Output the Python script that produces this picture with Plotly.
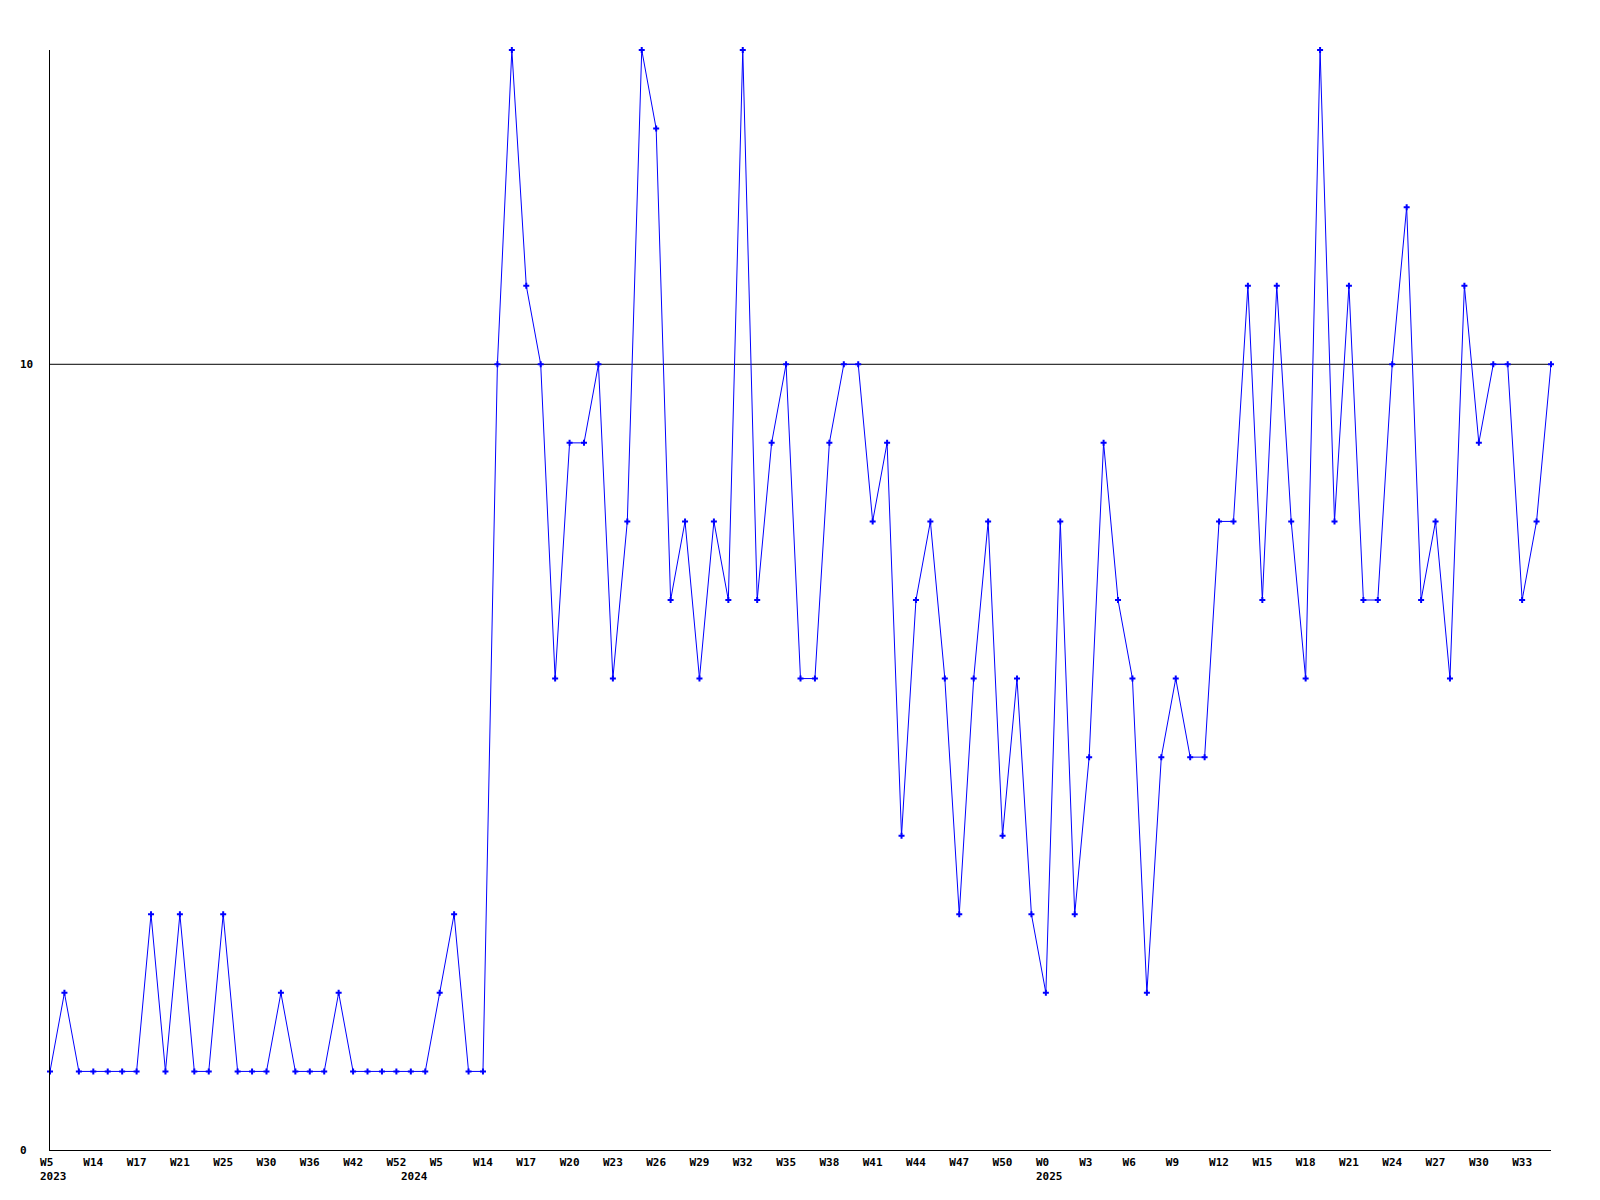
import plotly.graph_objects as go

# ---- data ----
years = [2023] * 25 + [2024] * 44 + [2025] * 36
weeks = [5, 8, 11, 14, 15, 16, 17, 18, 20, 21, 22, 24, 25, 27, 28, 30, 32, 34,
         36, 38, 40, 42, 45, 49, 52, 1, 3,
         5, 8, 11] + list(range(14, 53)) + list(range(0, 36))

values = [1, 2, 1, 1, 1, 1, 1, 3, 1, 3,
          1, 1, 3, 1, 1, 1, 2, 1, 1, 1,
          2, 1, 1, 1, 1, 1, 1, 2, 3, 1,
          1, 10, 14, 11, 10, 6, 9, 9, 10, 6,
          8, 14, 13, 7, 8, 6, 8, 7, 14, 7,
          9, 10, 6, 6, 9, 10, 10, 8, 9, 4,
          7, 8, 6, 3, 6, 8, 4, 6, 3, 2,
          8, 3, 5, 9, 7, 6, 2, 5, 6, 5,
          5, 8, 8, 11, 7, 11, 8, 6, 14, 8,
          11, 7, 7, 10, 12, 7, 8, 6, 11, 9,
          10, 10, 7, 8, 10]

categories = [f"{y}-W{w:02d}" for y, w in zip(years, weeks)]
tick_step = 3
tick_idx = list(range(0, len(categories), tick_step))
tick_vals = [categories[i] for i in tick_idx]
tick_text = [("W%d" % weeks[i]).ljust(3, "\u00a0") for i in tick_idx]
# a year label sits under the first week of each year
year_label_idx = [i for i in range(len(years)) if i == 0 or years[i] != years[i - 1]]
y_tick_vals = [0, 10]
ref_value = 10

FONT = dict(family="DejaVu Sans Mono", size=11, color="black", weight="bold")

fig = go.Figure()
fig.add_trace(go.Scatter(
    x=categories, y=values, mode="lines+markers",
    line=dict(color="#0000ff", width=1),
    marker=dict(symbol="cross", size=5, color="#0000ff", line=dict(width=0)),
    cliponaxis=False, showlegend=False, hoverinfo="x+y",
))

fig.add_shape(type="line", xref="paper", x0=0, x1=1, yref="y", y0=ref_value, y1=ref_value,
              line=dict(color="black", width=1), layer="below")

annotations = []
for v in y_tick_vals:
    annotations.append(dict(x=0, xref="paper", y=v, yref="y", text=str(v),
                            showarrow=False, xanchor="left", yanchor="middle",
                            xshift=-32, font=FONT))
for i in year_label_idx:
    annotations.append(dict(x=categories[i], xref="x", y=0, yref="paper",
                            text=str(years[i]), showarrow=False,
                            xanchor="left", yanchor="top",
                            xshift=-12, yshift=-18, font=FONT))

fig.update_layout(
    width=1600, height=1200,
    margin=dict(l=50, r=49, t=50, b=50, pad=0),
    paper_bgcolor="white", plot_bgcolor="white",
    font=FONT,
    annotations=annotations,
    xaxis=dict(type="category", categoryorder="array", categoryarray=categories,
               range=[0, len(categories) - 1], showgrid=False, zeroline=False,
               showline=True, linecolor="black", linewidth=1,
               tickmode="array", tickvals=tick_vals, ticktext=tick_text,
               ticks="", tickangle=0, tickfont=FONT, ticklabelstandoff=2),
    yaxis=dict(range=[0, 14], showgrid=False, zeroline=False,
               showline=True, linecolor="black", linewidth=1,
               showticklabels=False, ticks=""),
)

fig.write_html("out.html", config={"displayModeBar": False},
               post_script="document.body.style.margin='0';")
